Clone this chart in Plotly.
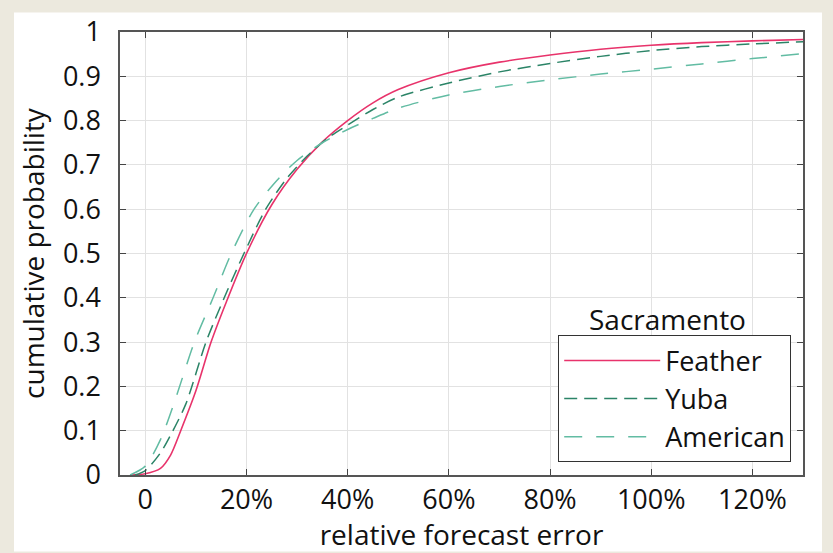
import plotly.graph_objects as go

# ---- data (x in percent, y cumulative probability) ----
feather_x = [-3, 0, 3, 5, 7, 10, 13, 16, 20, 25, 30, 35, 40, 45, 50, 60, 70, 80, 90, 100, 110, 120, 130]
feather_y = [0, 0.003, 0.015, 0.045, 0.10, 0.19, 0.30, 0.39, 0.50, 0.61, 0.69, 0.752, 0.80, 0.84, 0.87, 0.908, 0.932, 0.948, 0.961, 0.970, 0.976, 0.980, 0.983]

yuba_x = [-2, 0, 3, 5, 8, 12, 15.6, 19.5, 23.8, 28, 32, 36, 40, 45, 50, 60, 70, 80, 90, 100, 110, 120, 130]
yuba_y = [0, 0.01, 0.05, 0.09, 0.16, 0.30, 0.40, 0.50, 0.60, 0.67, 0.72, 0.76, 0.79, 0.825, 0.853, 0.885, 0.91, 0.929, 0.945, 0.958, 0.967, 0.973, 0.978]

american_x = [-3, 0, 3, 5.8, 9.7, 13.4, 17, 21.5, 26, 30, 35, 40, 45, 50, 60, 70, 80, 90, 100, 110, 120, 130]
american_y = [0, 0.02, 0.08, 0.166, 0.30, 0.40, 0.50, 0.60, 0.665, 0.71, 0.75, 0.78, 0.805, 0.828, 0.858, 0.877, 0.892, 0.905, 0.916, 0.928, 0.94, 0.951]

x_tickvals = [0, 20, 40, 60, 80, 100, 120]
x_ticktext = ["0", "20%", "40%", "60%", "80%", "100%", "120%"]
y_tickvals = [0, 0.1, 0.2, 0.3, 0.4, 0.5, 0.6, 0.7, 0.8, 0.9, 1]
y_ticktext = ["0", "0.1", "0.2", "0.3", "0.4", "0.5", "0.6", "0.7", "0.8", "0.9", "1"]

FONT = "Open Sans"
TICK_FS = 27
TITLE_FS = 28

fig = go.Figure()
fig.add_trace(go.Scatter(x=feather_x, y=feather_y, mode="lines", name="Feather",
                         line=dict(color="#e8336b", width=1.6, shape="spline", smoothing=0.8)))
fig.add_trace(go.Scatter(x=yuba_x, y=yuba_y, mode="lines", name="Yuba",
                         line=dict(color="#2b8467", width=1.5, dash="13px,7px", shape="spline", smoothing=0.8)))
fig.add_trace(go.Scatter(x=american_x, y=american_y, mode="lines", name="American",
                         line=dict(color="#62bca3", width=1.5, dash="18px,14px", shape="spline", smoothing=0.8)))

W, H = 833, 553
L, R, T, B = 120, 30, 23, 78
pw, ph = W - L - R, H - T - B

def px2x(px):
    return (px - L) / pw

def py2y(py):
    return (H - B - py) / ph

fig.add_shape(type="rect", xref="paper", yref="paper",
              x0=px2x(14), x1=px2x(822), y0=py2y(553), y1=py2y(3),
              fillcolor="white", line=dict(width=0), layer="below")

fig.add_annotation(text="Sacramento", xref="paper", yref="paper",
                   x=px2x(667), y=py2y(316), showarrow=False,
                   font=dict(family=FONT, size=TITLE_FS, color="#111"),
                   xanchor="center", yanchor="middle")

axis_common = dict(showline=True, linecolor="#555", linewidth=1.5, mirror="ticks",
                   ticks="inside", ticklen=6, tickcolor="#444", tickwidth=1.2,
                   showgrid=True, gridcolor="#e2e2e2", gridwidth=1, zeroline=False,
                   tickfont=dict(family=FONT, size=TICK_FS, color="#111"))

fig.update_xaxes(range=[-5, 130], tickvals=x_tickvals, ticktext=x_ticktext,
                 title=dict(text="relative forecast error", font=dict(family=FONT, size=TITLE_FS, color="#111"), standoff=0),
                 ticklabelstandoff=0, **axis_common)
fig.update_yaxes(range=[0, 1], tickvals=y_tickvals, ticktext=y_ticktext,
                 title=dict(text="cumulative probability", font=dict(family=FONT, size=TITLE_FS, color="#111"), standoff=10),
                 ticklabelstandoff=12, **axis_common)

fig.update_layout(
    width=W, height=H,
    margin=dict(l=L, r=R, t=T, b=B),
    paper_bgcolor="#ece9de",
    plot_bgcolor="white",
    font=dict(family=FONT, size=TICK_FS, color="#111"),
    legend=dict(x=px2x(791), y=py2y(462), xanchor="right", yanchor="bottom",
                bgcolor="white", bordercolor="#333", borderwidth=1.2,
                font=dict(family=FONT, size=27, color="#111"),
                itemwidth=96, tracegroupgap=0),
    showlegend=True,
)

fig.write_html("out.html")
